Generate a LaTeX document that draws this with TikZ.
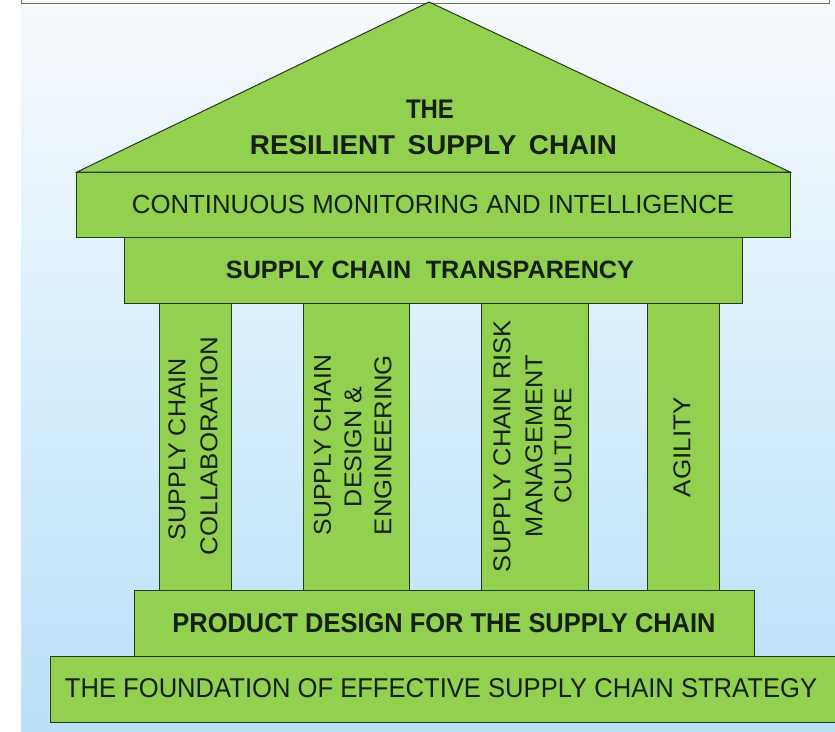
\documentclass[tikz,border=0pt]{standalone}
\usepackage{fontspec}
\setmainfont{Liberation Sans}
\usepackage{graphicx}
\definecolor{pgreen}{RGB}{146,208,80}
\definecolor{pedge}{RGB}{40,56,32}
\definecolor{ptext}{RGB}{22,32,18}
\definecolor{bgtop}{RGB}{248,250,252}
\definecolor{bgbot}{RGB}{184,225,248}
\definecolor{topline}{RGB}{110,120,80}
\newcommand\fitt[3]{\resizebox{#1pt}{#2pt}{#3}}
\begin{document}
\begin{tikzpicture}[x=1pt,y=-1pt,
  block/.style={fill=pgreen,draw=pedge,line width=1pt,line join=miter},
  lbl/.style={inner sep=0pt,outer sep=0pt,text=ptext},
  vlbl/.style={lbl,rotate=90}]
\useasboundingbox (0,0) rectangle (835,731);
\fill[white] (0,0) rectangle (835,731);
\shade[top color=bgtop,bottom color=bgbot] (21,0) rectangle (835,731);
% top frame remnant
\draw[topline,line width=1pt] (21,-6) rectangle (829,3);
% roof
\draw[block] (77,172) -- (429,2) -- (790,172) -- cycle;
% bands
\draw[block] (76,172) rectangle (790,237);
\draw[block] (124,237) rectangle (742,303);
% columns
\draw[block] (159,303) rectangle (231,590);
\draw[block] (303,303) rectangle (409,590);
\draw[block] (481,303) rectangle (588,590);
\draw[block] (647,303) rectangle (719,590);
% base bands
\draw[block] (134,590) rectangle (754,656);
\draw[block] (50,656) rectangle (840,722);
% roof text
\node[lbl] (t1) at (430,109) {\fitt{48}{18.5}{\bfseries THE}};
\node[lbl] (t2) at (433.5,145) {\fitt{367}{19}{\bfseries RESILIENT\hspace{0.45em}SUPPLY\hspace{0.45em}CHAIN}};
\node[lbl] (b1) at (433,204) {\fitt{602}{18.3}{CONTINUOUS MONITORING AND INTELLIGENCE}};
\node[lbl] (b2) at (430,270) {\fitt{408}{17.5}{\bfseries SUPPLY CHAIN\hspace{0.3em} TRANSPARENCY}};
\node[lbl] (b3) at (444,623) {\fitt{543}{19}{\bfseries PRODUCT DESIGN FOR THE SUPPLY CHAIN}};
\node[lbl] (b4) at (441,688) {\fitt{752}{19}{THE FOUNDATION OF EFFECTIVE SUPPLY CHAIN STRATEGY}};
% column text
\node[vlbl] (c1a) at (177,449) {\fitt{182}{17}{SUPPLY CHAIN}};
\node[vlbl] (c1b) at (209,446) {\fitt{218}{17}{COLLABORATION}};
\node[vlbl] (c2a) at (322.5,445) {\fitt{180}{17}{SUPPLY CHAIN}};
\node[vlbl] (c2b) at (353,447) {\fitt{120}{17}{DESIGN \&}};
\node[vlbl] (c2c) at (383,445) {\fitt{180}{17}{ENGINEERING}};
\node[vlbl] (c3a) at (502,446) {\fitt{252}{17}{SUPPLY CHAIN RISK}};
\node[vlbl] (c3b) at (534,446) {\fitt{182}{17}{MANAGEMENT}};
\node[vlbl] (c3c) at (563,445.5) {\fitt{115}{17}{CULTURE}};
\node[vlbl] (c4a) at (682,447) {\fitt{100}{17}{AGILITY}};
\end{tikzpicture}
\end{document}
